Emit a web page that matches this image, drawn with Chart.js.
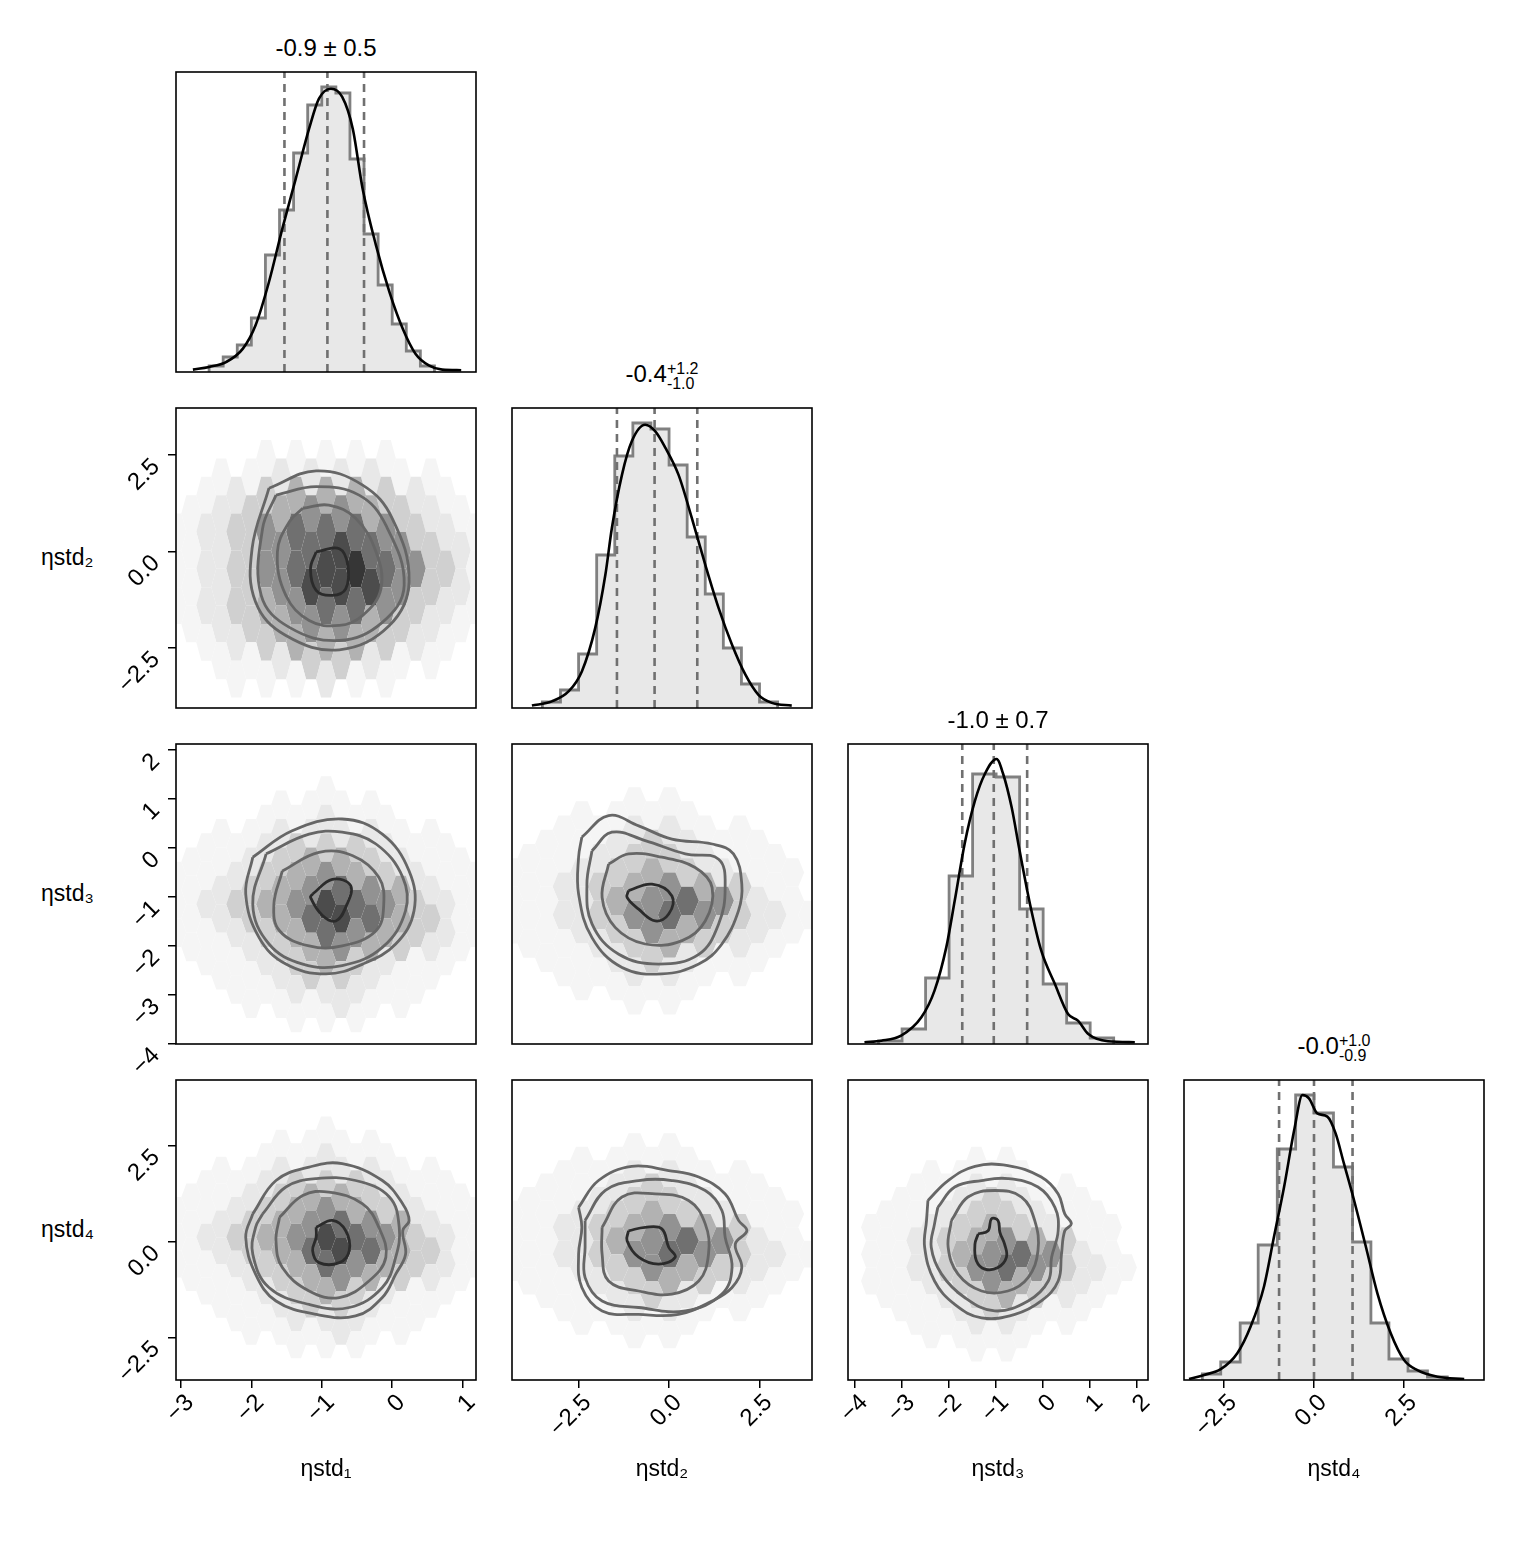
<!DOCTYPE html>
<html>
<head>
<meta charset="utf-8">
<script src="https://cdn.jsdelivr.net/npm/chart.js@4.4.1/dist/chart.umd.min.js"></script>
<style>
  body { margin: 0; background: #fff; width: 1516px; height: 1548px; position: relative; overflow: hidden;
         font-family: "Liberation Sans", Arial, sans-serif; color: #000; }
  canvas { position: absolute; }
  .lbl { position: absolute; font-size: 23px; white-space: nowrap; }
  .ttl { position: absolute; font-size: 24px; white-space: nowrap; transform: translateX(-50%); }
  .ud { display: inline-block; vertical-align: middle; font-size: 16px; line-height: 15px; text-align: left; }
</style>
</head>
<body>
<script>
// ---- axis info ----
const VAR_NAMES = ["ηstd₁", "ηstd₂", "ηstd₃", "ηstd₄"];
const X_RANGES = [[-3.07, 1.19], [-4.34, 3.95], [-4.15, 2.23], [-3.61, 4.72]];
const Y_RANGES = [null, [-4.06, 3.72], [-4.0, 2.12], [-3.61, 4.21]];
const TICK_VALUES = [[-3, -2, -1, 0, 1], [-2.5, 0, 2.5], [-4, -3, -2, -1, 0, 1, 2], [-2.5, 0, 2.5]];
const TICK_LABELS = [["−3", "−2", "−1", "0", "1"], ["−2.5", "0.0", "2.5"],
  ["−4", "−3", "−2", "−1", "0", "1", "2"], ["−2.5", "0.0", "2.5"]];

// ---- titles ----
const TITLE_MAIN = ["-0.9 ± 0.5", "-0.4", "-1.0 ± 0.7", "-0.0"];
const TITLE_UP = [null, "+1.2", null, "+1.0"];
const TITLE_DOWN = [null, "-1.0", null, "-0.9"];

// ---- 1D histograms (height in % of panel) ----
const HIST1_EDGES = [-2.6, -2.4, -2.2, -2.0, -1.8, -1.6, -1.4, -1.2, -1.0, -0.8, -0.6, -0.4, -0.2, 0.0, 0.2, 0.4, 0.6];
const HIST1_HEIGHTS = [2, 5, 9, 18, 39, 54, 73, 89, 95, 93, 71, 46, 29, 16, 7, 2];
const HIST2_EDGES = [-3.5, -3.0, -2.5, -2.0, -1.5, -1.0, -0.5, 0.0, 0.5, 1.0, 1.5, 2.0, 2.5, 3.0];
const HIST2_HEIGHTS = [2, 6, 18, 51, 84, 95, 93, 81, 57, 38, 20, 8, 2];
const HIST3_EDGES = [-3.5, -3.0, -2.5, -2.0, -1.5, -1.0, -0.5, 0.0, 0.5, 1.0, 1.5];
const HIST3_HEIGHTS = [1, 5, 22, 56, 90, 89, 45, 20, 7, 2];
const HIST4_EDGES = [-3.10, -2.59, -2.05, -1.55, -1.02, -0.51, 0.0, 0.54, 1.07, 1.58, 2.08, 2.61, 3.15, 3.70];
const HIST4_HEIGHTS = [2, 6, 19, 45, 77, 95, 89, 71, 46, 19, 7, 3, 1];

// ---- KDE curves ----
const KDE1_X = [-2.83, -2.60, -2.36, -2.12, -1.94, -1.75, -1.56, -1.37, -1.18, -1.04, -0.87, -0.71, -0.56, -0.42, -0.23, -0.04, 0.15, 0.33, 0.52, 0.71, 0.98];
const KDE1_Y = [0.8, 1.7, 3.3, 7.8, 15.6, 30, 47.8, 64.4, 81.1, 91.1, 94.4, 91.7, 81.1, 61.1, 42.2, 26.7, 14.4, 6.1, 2.2, 0.8, 0.6];
const KDE2_X = [-3.79, -3.24, -2.77, -2.41, -2.04, -1.76, -1.58, -1.30, -1.03, -0.66, -0.38, -0.10, 0.26, 0.63, 1.00, 1.37, 1.74, 2.11, 2.47, 2.84, 3.39];
const KDE2_Y = [0.8, 2.2, 5.6, 12.2, 26.7, 44.4, 60, 77.8, 88.9, 94.4, 92.2, 86.7, 77.8, 63.3, 47.8, 33.3, 21.1, 11.1, 4.4, 1.7, 0.8];
const KDE3_X = [-3.80, -3.44, -3.02, -2.59, -2.31, -2.06, -1.88, -1.67, -1.45, -1.24, -0.99, -0.85, -0.67, -0.50, -0.28, -0.04, 0.25, 0.53, 0.74, 0.96, 1.38, 1.95];
const KDE3_Y = [0.6, 1.1, 2.8, 8.9, 17.8, 32.2, 47.8, 66.7, 81.1, 90, 95, 90, 78.9, 64.4, 46.7, 31.1, 20, 10, 7.8, 3.3, 0.9, 0.6];
const KDE4_X = [-3.47, -3.05, -2.59, -2.13, -1.76, -1.39, -1.11, -0.83, -0.55, -0.32, -0.14, 0.09, 0.37, 0.60, 0.83, 1.11, 1.44, 1.76, 2.13, 2.50, 2.87, 3.43, 4.17];
const KDE4_Y = [0.3, 1.7, 3.6, 8.9, 17.8, 31.1, 47.8, 64.4, 83.3, 95, 93.9, 88.9, 87.8, 82.2, 72.2, 60, 44.4, 28.9, 15.6, 6.7, 3.3, 1.1, 0.3];

// 16%, 50%, 84% quantiles
const QUANTILES = [[-1.53, -0.92, -0.40], [-1.44, -0.40, 0.78], [-1.72, -1.05, -0.34], [-0.97, 0.0, 1.07]];

// ---- hexbin density levels (0 = empty .. 8 = darkest) ----
const HEX_COLORS = [null, "#f5f5f5", "#e8e8e8", "#d0d0d0", "#b2b2b2", "#929292", "#707070", "#4c4c4c", "#363636"];
const HEX_ROWS_WIDE = [
  "00011111000", "0112222110", "01234443210", "1234554321", "12356665321", "1235676532",
  "12356786531", "1235777532", "12345665321", "1234554321", "01234443210", "0112332110", "00111211000"];
const HEX_ROWS_A = [
  "00000100000", "0001111000", "00011211000", "0112222110", "01123332110", "1123443211",
  "11234543211", "1234565421", "12345765321", "1234676431", "11234654321", "1123454321",
  "01123432110", "0112332110", "00112221100", "0011121100", "00001110000"];
const HEX_ROWS_C = [
  "00000000000", "0000110000", "00011110000", "0011221100", "00112321100", "0112332110",
  "01123432110", "0123454310", "01124565210", "0123565321", "01123543210", "0112343210",
  "00112321100", "0011221100", "00011110000", "0000110000", "00000000000"];
// centre (x, y), spacing (dx, dy) per panel
const HEX_GRID = {
  "1-0": [-0.94, -0.45, 0.425, 0.477, HEX_ROWS_WIDE],
  "2-0": [-0.94, -1.15, 0.425, 0.29, HEX_ROWS_A],
  "2-1": [-0.47, -1.08, 0.97, 0.29, HEX_ROWS_C],
  "3-0": [-0.94, 0.11, 0.425, 0.35, HEX_ROWS_A],
  "3-1": [-0.47, 0.02, 0.97, 0.35, HEX_ROWS_C],
  "3-2": [-1.10, -0.33, 0.64, 0.35, HEX_ROWS_C]
};

// ---- density contours, innermost first ----
const CONT_10 = [
  [[-1.08, -0.01], [-0.75, 0.07], [-0.63, -0.36], [-0.66, -0.97], [-0.85, -1.14], [-1.08, -1.01], [-1.16, -0.45]],
  [[-1.27, 1.12], [-0.90, 1.20], [-0.52, 0.86], [-0.23, -0.01], [-0.16, -0.97], [-0.42, -1.66], [-0.75, -1.92], [-1.18, -1.79], [-1.51, -1.14], [-1.63, -0.01], [-1.46, 0.77]],
  [[-1.65, 1.46], [-1.08, 1.68], [-0.47, 1.46], [-0.09, 0.68], [0.17, -0.88], [-0.14, -1.84], [-0.75, -2.31], [-1.46, -1.97], [-1.86, -1.14], [-1.84, 0.60]],
  [[-1.75, 1.64], [-1.08, 2.09], [-0.42, 1.72], [0.00, 0.86], [0.24, -0.79], [-0.04, -1.92], [-0.75, -2.55], [-1.51, -2.18], [-1.94, -1.31], [-1.99, 0.07]]];
const CONT_20 = [
  [[-1.13, -0.94], [-0.85, -0.64], [-0.59, -0.77], [-0.66, -1.21], [-0.80, -1.49], [-0.99, -1.38], [-1.16, -1.01]],
  [[-1.56, -0.47], [-1.04, -0.09], [-0.56, -0.16], [-0.19, -0.60], [-0.12, -1.15], [-0.23, -1.69], [-0.71, -2.00], [-1.18, -2.00], [-1.60, -1.69], [-1.68, -1.15]],
  [[-1.79, -0.12], [-1.18, 0.28], [-0.71, 0.32], [-0.23, 0.08], [0.15, -0.60], [0.19, -1.28], [-0.14, -2.03], [-0.71, -2.40], [-1.27, -2.37], [-1.75, -1.96], [-1.98, -1.15]],
  [[-1.98, -0.19], [-1.42, 0.35], [-0.71, 0.59], [-0.14, 0.28], [0.24, -0.47], [0.31, -1.28], [0.05, -1.96], [-0.42, -2.37], [-0.94, -2.57], [-1.51, -2.37], [-1.89, -1.83], [-2.08, -0.94]]];
const CONT_21 = [
  [[-1.12, -0.87], [-0.47, -0.74], [0.08, -0.98], [-0.01, -1.35], [-0.38, -1.49], [-0.84, -1.25], [-1.16, -1.01]],
  [[-1.67, -0.33], [-1.12, -0.12], [-0.20, -0.19], [0.72, -0.40], [1.19, -0.81], [1.00, -1.49], [0.36, -1.89], [-0.66, -1.96], [-1.49, -1.62], [-1.85, -1.01]],
  [[-2.13, -0.06], [-1.58, 0.32], [-0.66, 0.15], [0.45, -0.12], [1.37, -0.23], [1.55, -0.81], [1.37, -1.55], [0.82, -2.17], [-0.29, -2.37], [-1.39, -2.17], [-2.13, -1.55], [-2.27, -0.74]],
  [[-2.41, 0.22], [-1.67, 0.66], [-0.84, 0.45], [0.08, 0.18], [1.19, 0.08], [1.78, -0.12], [2.01, -0.74], [1.92, -1.28], [1.46, -1.96], [0.82, -2.37], [-0.20, -2.57], [-1.30, -2.44], [-2.13, -1.83], [-2.50, -0.94], [-2.50, -0.19]]];
const CONT_30 = [
  [[-1.08, 0.37], [-0.85, 0.55], [-0.66, 0.28], [-0.61, -0.24], [-0.75, -0.55], [-1.04, -0.55], [-1.13, -0.24], [-1.08, 0.11]],
  [[-1.60, 0.63], [-1.27, 1.20], [-0.90, 1.29], [-0.42, 0.98], [-0.19, 0.37], [-0.09, -0.41], [-0.33, -1.03], [-0.75, -1.46], [-1.18, -1.29], [-1.56, -0.68], [-1.65, 0.02]],
  [[-1.84, 0.72], [-1.51, 1.42], [-1.08, 1.64], [-0.52, 1.59], [-0.04, 1.16], [0.10, 0.37], [0.05, -0.41], [-0.14, -1.20], [-0.61, -1.72], [-1.18, -1.64], [-1.75, -1.20], [-1.98, -0.33], [-1.94, 0.37]],
  [[-1.98, 0.72], [-1.65, 1.59], [-1.18, 1.94], [-0.71, 2.03], [-0.14, 1.59], [0.15, 0.98], [0.24, 0.55], [0.15, 0.28], [0.19, -0.33], [0.05, -0.85], [-0.14, -1.46], [-0.52, -1.94], [-1.08, -1.90], [-1.65, -1.55], [-1.94, -0.85], [-2.08, 0.11]]];
const CONT_31 = [
  [[-1.12, 0.28], [-0.66, 0.37], [-0.20, 0.33], [-0.01, -0.15], [0.17, -0.41], [-0.29, -0.59], [-0.84, -0.41], [-1.16, 0.02]],
  [[-1.85, 0.37], [-1.30, 1.16], [-0.38, 1.24], [0.54, 1.07], [1.00, 0.46], [1.09, -0.33], [0.82, -1.03], [0.08, -1.37], [-0.84, -1.29], [-1.67, -1.03], [-1.85, -0.33]],
  [[-2.32, 0.55], [-1.76, 1.33], [-0.84, 1.59], [0.08, 1.59], [1.00, 1.33], [1.46, 0.81], [1.55, 0.11], [1.74, -0.68], [1.46, -1.37], [0.45, -1.81], [-0.84, -1.72], [-1.85, -1.55], [-2.32, -0.94], [-2.32, -0.15]],
  [[-2.50, 0.89], [-1.95, 1.59], [-1.03, 1.96], [-0.01, 1.85], [0.82, 1.68], [1.55, 1.24], [1.92, 0.55], [2.15, 0.28], [1.83, -0.07], [2.01, -0.68], [1.74, -1.20], [1.19, -1.55], [0.26, -1.90], [-0.84, -1.90], [-1.85, -1.81], [-2.41, -1.20], [-2.50, -0.33], [-2.41, 0.37]]];
const CONT_32 = [
  [[-1.38, 0.20], [-1.17, 0.28], [-1.10, 0.59], [-0.96, 0.55], [-0.92, 0.24], [-0.82, -0.07], [-0.78, -0.41], [-0.96, -0.68], [-1.24, -0.72], [-1.42, -0.50], [-1.45, -0.07]],
  [[-1.95, 0.55], [-1.60, 1.16], [-1.03, 1.33], [-0.46, 1.16], [-0.18, 0.55], [-0.11, -0.24], [-0.32, -0.94], [-0.75, -1.29], [-1.31, -1.29], [-1.81, -0.85], [-2.02, -0.15]],
  [[-2.24, 0.89], [-1.88, 1.42], [-1.31, 1.59], [-0.75, 1.64], [-0.11, 1.42], [0.25, 0.89], [0.32, 0.28], [0.18, -0.41], [0.11, -1.03], [-0.32, -1.55], [-1.03, -1.81], [-1.67, -1.46], [-2.16, -0.85], [-2.38, -0.15], [-2.31, 0.46]],
  [[-2.45, 1.07], [-2.02, 1.59], [-1.45, 1.96], [-0.75, 1.98], [-0.04, 1.68], [0.32, 1.24], [0.46, 0.72], [0.60, 0.46], [0.46, 0.28], [0.39, -0.33], [0.32, -1.03], [-0.04, -1.55], [-0.60, -1.90], [-1.31, -1.99], [-1.88, -1.64], [-2.31, -1.03], [-2.52, -0.15], [-2.48, 0.55]]];

const HISTS = [[HIST1_EDGES, HIST1_HEIGHTS], [HIST2_EDGES, HIST2_HEIGHTS], [HIST3_EDGES, HIST3_HEIGHTS], [HIST4_EDGES, HIST4_HEIGHTS]];
const KDES = [[KDE1_X, KDE1_Y], [KDE2_X, KDE2_Y], [KDE3_X, KDE3_Y], [KDE4_X, KDE4_Y]];
const CONTOURS = { "1-0": CONT_10, "2-0": CONT_20, "2-1": CONT_21, "3-0": CONT_30, "3-1": CONT_31, "3-2": CONT_32 };

// ---- layout ----
const PANEL_LEFT = [176, 512, 848, 1184];
const PANEL_TOP = [72, 408, 744, 1080];
const PANEL_SIZE = 300;
const AXIS_ROOM = 80;
const FONT = '"Liberation Sans", Arial, sans-serif';

// hexbin background
const hexPlugin = {
  id: "hexbin",
  beforeDatasetsDraw(chart, args, opts) {
    if (!opts || !opts.grid) return;
    const [cx, cy, dx, dy, rows] = opts.grid;
    const xs = chart.scales.x, ys = chart.scales.y, ca = chart.chartArea;
    const ctx = chart.ctx;
    const mid = (rows.length - 1) / 2;
    const R = Math.abs(xs.getPixelForValue(dx) - xs.getPixelForValue(0)) / 3;
    const H = Math.abs(ys.getPixelForValue(dy) - ys.getPixelForValue(0));
    ctx.save();
    ctx.beginPath(); ctx.rect(ca.left, ca.top, ca.width, ca.height); ctx.clip();
    rows.forEach((row, r) => {
      const off = r - mid;
      const shift = Math.abs(off) % 2 === 1 ? 0.5 : 0;
      const yv = cy - off * dy;
      for (let k = 0; k < row.length; k++) {
        const lvl = +row[k];
        if (!lvl) continue;
        const xv = cx + (k - 5 + shift) * dx;
        const px = xs.getPixelForValue(xv), py = ys.getPixelForValue(yv);
        ctx.beginPath();
        ctx.moveTo(px - R, py); ctx.lineTo(px - R / 2, py - H); ctx.lineTo(px + R / 2, py - H);
        ctx.lineTo(px + R, py); ctx.lineTo(px + R / 2, py + H); ctx.lineTo(px - R / 2, py + H);
        ctx.closePath();
        ctx.fillStyle = HEX_COLORS[lvl];
        ctx.fill();
      }
    });
    ctx.restore();
  }
};

// frame + rotated tick labels
const framePlugin = {
  id: "frame",
  afterDraw(chart, args, opts) {
    const ctx = chart.ctx, ca = chart.chartArea;
    ctx.save();
    ctx.strokeStyle = "#000"; ctx.lineWidth = 1.6;
    ctx.strokeRect(ca.left, ca.top, ca.width, ca.height);
    ctx.fillStyle = "#000";
    ctx.font = "24px " + FONT;
    ctx.textAlign = "right"; ctx.textBaseline = "middle";
    if (opts.xv !== null) {
      TICK_VALUES[opts.xv].forEach((v, k) => {
        const px = chart.scales.x.getPixelForValue(v);
        ctx.save();
        ctx.translate(px + 9, ca.bottom + 19);
        ctx.rotate(-Math.PI / 4);
        ctx.fillText(TICK_LABELS[opts.xv][k], 0, 0);
        ctx.restore();
      });
    }
    if (opts.yv !== null) {
      TICK_VALUES[opts.yv].forEach((v, k) => {
        const py = chart.scales.y.getPixelForValue(v);
        ctx.save();
        ctx.translate(ca.left - 20, py + 8);
        ctx.rotate(-Math.PI / 4);
        ctx.fillText(TICK_LABELS[opts.yv][k], 0, 0);
        ctx.restore();
      });
    }
    ctx.restore();
  }
};

function axis(range, tickVar, showTicks, isX) {
  return {
    type: "linear", min: range[0], max: range[1],
    border: { display: false },
    grid: { display: showTicks, drawOnChartArea: false, drawTicks: true, tickLength: 8, color: "#000", lineWidth: 1.5 },
    ticks: { display: false },
    afterBuildTicks: s => { s.ticks = tickVar === null ? [] : TICK_VALUES[tickVar].map(v => ({ value: v })); },
    afterFit: s => { if (isX) s.height = AXIS_ROOM; else s.width = AXIS_ROOM; }
  };
}

function makePanel(i, j) {
  const cv = document.createElement("canvas");
  const w = PANEL_SIZE + AXIS_ROOM + 10, h = PANEL_SIZE + AXIS_ROOM + 10;
  cv.width = w; cv.height = h;
  cv.style.left = (PANEL_LEFT[j] - AXIS_ROOM) + "px";
  cv.style.top = (PANEL_TOP[i] - 10) + "px";
  cv.style.width = w + "px"; cv.style.height = h + "px";
  document.body.appendChild(cv);

  const showX = i === 3;
  const showY = j === 0 && i > 0;
  const datasets = [];
  let yRange, hexGrid = null;

  if (i === j) {
    yRange = [0, 100];
    const [edges, heights] = HISTS[i];
    const step = [{ x: edges[0], y: 0 }];
    heights.forEach((hv, k) => { step.push({ x: edges[k], y: hv }, { x: edges[k + 1], y: hv }); });
    step.push({ x: edges[edges.length - 1], y: 0 });
    datasets.push({ data: step, borderColor: "#808080", borderWidth: 2.8, backgroundColor: "#e8e8e8",
      fill: "origin", pointRadius: 0, tension: 0, order: 3 });
    QUANTILES[i].forEach(q => datasets.push({ data: [{ x: q, y: 0 }, { x: q, y: 100 }], borderColor: "#707070",
      borderWidth: 2.6, borderDash: [8, 6], pointRadius: 0, fill: false, order: 2 }));
    const [kx, ky] = KDES[i];
    datasets.push({ data: kx.map((x, k) => ({ x, y: ky[k] })), borderColor: "#000", borderWidth: 2.6,
      pointRadius: 0, fill: false, cubicInterpolationMode: "monotone", order: 1 });
  } else {
    yRange = Y_RANGES[i];
    const key = i + "-" + j;
    hexGrid = HEX_GRID[key];
    CONTOURS[key].forEach((c, k) => {
      const pts = c.map(p => ({ x: p[0], y: p[1] }));
      pts.push(pts[0]);
      datasets.push({ data: pts, borderColor: k === 0 ? "#2b2b2b" : "#666", borderWidth: 2.8,
        pointRadius: 0, fill: false, tension: 0.4 });
    });
  }

  new Chart(cv, {
    type: "line",
    data: { datasets },
    plugins: [hexPlugin, framePlugin],
    options: {
      responsive: false, animation: false, parsing: false,
      layout: { padding: { top: 10, right: 10, left: 0, bottom: 0 } },
      scales: {
        x: axis(X_RANGES[j], showX ? j : null, showX, true),
        y: axis(yRange, showY ? i : null, showY, false)
      },
      plugins: {
        legend: { display: false }, tooltip: { enabled: false },
        hexbin: { grid: hexGrid },
        frame: { xv: showX ? j : null, yv: showY ? i : null }
      }
    }
  });
}

for (let i = 0; i < 4; i++) for (let j = 0; j <= i; j++) makePanel(i, j);

// titles and axis names
for (let i = 0; i < 4; i++) {
  const cx = PANEL_LEFT[i] + PANEL_SIZE / 2;
  const t = document.createElement("div");
  t.className = "ttl";
  t.style.left = cx + "px";
  t.style.top = (PANEL_TOP[i] - (TITLE_UP[i] ? 48 : 38)) + "px";
  t.innerHTML = TITLE_MAIN[i] + (TITLE_UP[i]
    ? '<span class="ud">' + TITLE_UP[i] + "<br>" + TITLE_DOWN[i] + "</span>" : "");
  document.body.appendChild(t);

  const xl = document.createElement("div");
  xl.className = "ttl";
  xl.style.left = cx + "px"; xl.style.top = "1455px";
  xl.style.fontSize = "23px";
  xl.textContent = VAR_NAMES[i];
  document.body.appendChild(xl);

  if (i > 0) {
    const yl = document.createElement("div");
    yl.className = "lbl";
    yl.style.left = "41px"; yl.style.top = (PANEL_TOP[i] + PANEL_SIZE / 2 - 14) + "px";
    yl.textContent = VAR_NAMES[i];
    document.body.appendChild(yl);
  }
}
</script>
</body>
</html>
